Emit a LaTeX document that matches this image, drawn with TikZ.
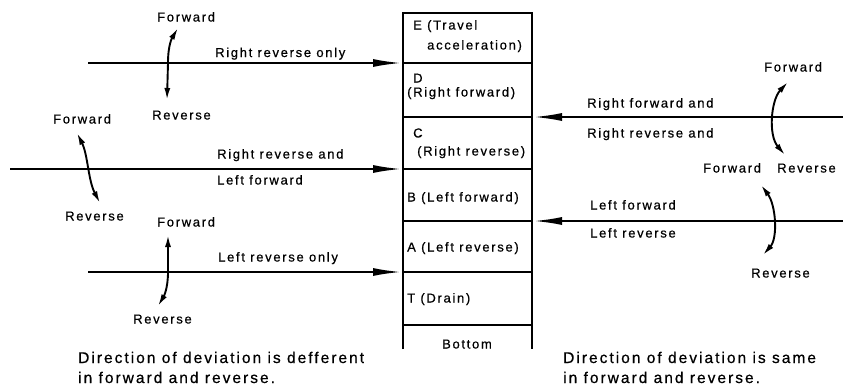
\documentclass[tikz,border=0pt]{standalone}
\usepackage{fontspec}
\setmainfont{Liberation Sans}
\newfontfamily\lblfont[LetterSpace=13,FakeBold=0.6]{Liberation Sans}
\newfontfamily\capfont[LetterSpace=13,FakeBold=0.6]{Liberation Sans}
\usetikzlibrary{arrows.meta}
\begin{document}
\begin{tikzpicture}[x=1pt,y=-1pt,
  lbl/.style={anchor=base west,inner sep=0pt,font=\lblfont\fontsize{13}{15}\selectfont},
  captext/.style={anchor=base west,inner sep=0pt,font=\capfont\fontsize{15.5}{18}\selectfont},
  colline/.style={line width=2.5pt},
  bigarrow/.style={-{Latex[length=30pt,width=8pt]},line width=2.5pt},
  devarrow/.style={{Latex[length=12pt,width=6pt]}-{Latex[length=12pt,width=6pt]},line width=1.9pt}]
\useasboundingbox (0,0) rectangle (843,388);

% column
\coordinate (ctl) at (403,13);
\coordinate (ctr) at (532,13);
\coordinate (cbl) at (403,349);
\coordinate (cbr) at (532,349);
\draw[colline] (cbl) -- (ctl) -- (ctr) -- (cbr);
\foreach \yy/\nm in {63/ed,117/dc,169/cb,221/ba,272/at,325/tb}{
  \coordinate (\nm-l) at (403,\yy);
  \coordinate (\nm-r) at (532,\yy);
  \draw[colline] (\nm-l) -- (\nm-r);
}

% column texts
\node[lbl] (tE1) at (413,29.5) {E (Travel};
\node[lbl] (tE2) at (427,49.5) {acceleration)};
\node[lbl] (tD1) at (413,82.5) {D};
\node[lbl] (tD2) at (407,96.5) {(Right forward)};
\node[lbl] (tC1) at (413,137.5) {C};
\node[lbl] (tC2) at (417,155.5) {(Right reverse)};
\node[lbl] (tB) at (407,201.5) {B (Left forward)};
\node[lbl] (tA) at (407,251.5) {A (Left reverse)};
\node[lbl] (tT) at (407,302.5) {T (Drain)};
\node[lbl,anchor=base] (tBot) at (467,348.5) {Bottom};

% left main arrows
\coordinate (s1) at (88,63);
\coordinate (s2) at (10,169);
\coordinate (s3) at (88,272);
\draw[bigarrow] (s1) -- (ed-l);
\draw[bigarrow] (s2) -- (cb-l);
\draw[bigarrow] (s3) -- (at-l);

% right main arrows
\coordinate (s4) at (843,117);
\coordinate (s5) at (843,221);
\draw[bigarrow] (s4) -- (dc-r);
\draw[bigarrow] (s5) -- (ba-r);

% left labels
\node[lbl] (l1) at (215,57) {Right reverse only};
\node[lbl] (l2a) at (217,158.5) {Right reverse and};
\node[lbl] (l2b) at (217,184.5) {Left forward};
\node[lbl] (l3) at (218,261.5) {Left reverse only};
\node[lbl] (f1) at (157,21.5) {Forward};
\node[lbl] (r1) at (152,119.5) {Reverse};
\node[lbl] (f2) at (53,123.5) {Forward};
\node[lbl] (r2) at (65,220.5) {Reverse};
\node[lbl] (f3) at (157,226.5) {Forward};
\node[lbl] (r3) at (133,323.5) {Reverse};

% right labels
\node[lbl] (l4a) at (587,107.5) {Right forward and};
\node[lbl] (l4b) at (587,137.5) {Right reverse and};
\node[lbl] (l5a) at (590,209.5) {Left forward};
\node[lbl] (l5b) at (590,237.5) {Left reverse};
\node[lbl] (f4) at (764,71.5) {Forward};
\node[lbl] (r4) at (777,172.5) {Reverse};
\node[lbl] (f5) at (703,172.5) {Forward};
\node[lbl] (r5) at (751,277.5) {Reverse};

% deviation arrows
\coordinate (d1a) at (167,100);
\coordinate (d1m) at (168,63);
\coordinate (d1b) at (178,28);
\draw[devarrow] (d1a) -- (d1m) .. controls (168,45) and (172,38) .. (d1b);

\coordinate (d2a) at (77,133);
\coordinate (d2b) at (100,203);
\draw[devarrow] (d2a) .. controls (88,155) and (88,180) .. (d2b);

\coordinate (d3a) at (168,235);
\coordinate (d3m) at (168,272);
\coordinate (d3b) at (158,306);
\draw[devarrow] (d3a) -- (d3m) .. controls (168,288) and (164,296) .. (d3b);

\coordinate (d4a) at (788,82);
\coordinate (d4b) at (785,155);
\draw[devarrow] (d4a) .. controls (771,100) and (768,135) .. (d4b);

\coordinate (d5a) at (761,185);
\coordinate (d5b) at (763,255);
\draw[devarrow] (d5a) .. controls (776,205) and (778,238) .. (d5b);

% captions
\node[captext] (c1a) at (78,363) {Direction of deviation is defferent};
\node[captext] (c1b) at (78,383) {in forward and reverse.};
\node[captext] (c2a) at (563,363) {Direction of deviation is same};
\node[captext] (c2b) at (563,383) {in forward and reverse.};
\end{tikzpicture}
\end{document}
